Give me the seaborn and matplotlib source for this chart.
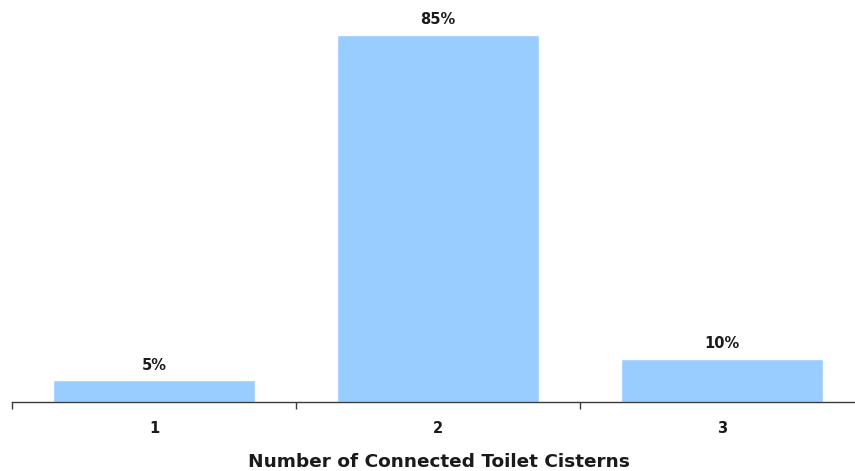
import pandas as pd
import numpy as np
import matplotlib
matplotlib.use("Agg")
import matplotlib.pyplot as plt
import seaborn as sns

# --- données ---
cisterns = ["1", "2", "3"]
share_pct = [5, 85, 10]

sns.set_style("white")
plt.rcParams["font.family"] = ["DejaVu Sans"]

df = pd.DataFrame({"cisterns": cisterns, "share": share_pct})

W, H = 855, 471
fig = plt.figure(figsize=(W / 100, H / 100), dpi=100)
# axe placé au pixel près (ligne de base à y=402, départ x=12)
ax = fig.add_axes([12 / W, (H - 402) / H, 852 / W, 402 / H])

sns.barplot(data=df, x="cisterns", y="share", color="#99CCFF",
            saturation=1, width=0.71, ax=ax)

ax.set_xlim(-0.5, 2.5)
ax.set_ylim(0, 402 / 4.32)

# étiquettes de valeur au-dessus des barres
for i, v in enumerate(share_pct):
    ax.annotate(f"{v}%", (i, v), xytext=(0, 5.5), textcoords="offset points",
                ha="center", va="bottom", fontsize=10.5, fontweight="bold",
                color="#1a1a1a")

# axes : seulement la ligne du bas
for side in ["left", "right", "top"]:
    ax.spines[side].set_visible(False)
ax.spines["bottom"].set_color("#3a3a3a")
ax.spines["bottom"].set_linewidth(1.0)
ax.set_yticks([])

ax.tick_params(axis="x", which="major", bottom=False, length=0, pad=14,
               labelsize=10.5)
ax.set_xticks(np.arange(-0.5, 3.0, 1.0), minor=True)
ax.tick_params(axis="x", which="minor", bottom=True, length=5, width=1,
               color="#3a3a3a", direction="out")
for lbl in ax.get_xticklabels():
    lbl.set_fontweight("bold")
    lbl.set_color("#1a1a1a")

ax.set_xlabel("Number of Connected Toilet Cisterns", fontsize=13.3,
              fontweight="bold", color="#1a1a1a")
ax.xaxis.label.set_verticalalignment("baseline")
ax.xaxis.set_label_coords((439 - 12) / 852, -(467 - 402) / 402)
ax.set_ylabel("")

fig.savefig("out.png", dpi=100)
